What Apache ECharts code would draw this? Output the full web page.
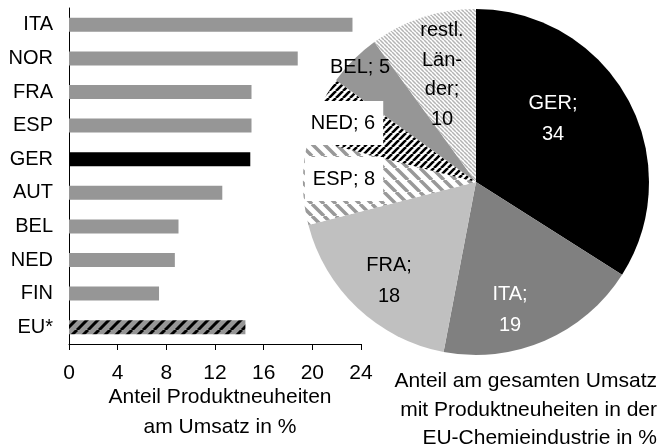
<!DOCTYPE html>
<html>
<head>
<meta charset="utf-8">
<script src="https://cdn.jsdelivr.net/npm/echarts@6/dist/echarts.min.js"></script>
<style>
  html, body { margin: 0; padding: 0; background: #fff; }
  #chart { width: 661px; height: 446px; }
</style>
</head>
<body>
<div id="chart"></div>
<script>
// Share of new products in turnover, by country (%)
const countries = ['ITA', 'NOR', 'FRA', 'ESP', 'GER', 'AUT', 'BEL', 'NED', 'FIN', 'EU*'];
const shareValues = [23.3, 18.8, 15.0, 15.0, 14.9, 12.6, 9.0, 8.7, 7.4, 14.5];
const xTicks = [0, 4, 8, 12, 16, 20, 24];

// Share of total EU chemical industry turnover with new products (%)
const pieNames = ['GER', 'ITA', 'FRA', 'ESP', 'NED', 'BEL', 'restl. Länder'];
const pieValues = [34, 19, 18, 8, 6, 5, 10];

const FONT = "'Liberation Sans', Arial, sans-serif";

// diagonal stripe tiles used as fills
function stripes(size, bg, fg, width, dir) {
  const c = document.createElement('canvas');
  c.width = size; c.height = size;
  const g = c.getContext('2d');
  g.fillStyle = bg; g.fillRect(0, 0, size, size);
  g.strokeStyle = fg; g.lineWidth = width;
  g.beginPath();
  for (let k = -1; k <= 1; k++) {
    if (dir === '/') { g.moveTo(k * size, size); g.lineTo(k * size + size, 0); }
    else { g.moveTo(k * size, 0); g.lineTo(k * size + size, size); }
  }
  g.stroke();
  return { image: c, repeat: 'repeat' };
}

const barGray = '#969696';
const euFill = stripes(11, barGray, '#000', 3, '/');
const barFills = countries.map(c => c === 'GER' ? '#000' : (c === 'EU*' ? euFill : barGray));

const pieFills = [
  '#000000',
  '#808080',
  '#c0c0c0',
  stripes(12, '#fff', '#999', 3.5, '\\'),
  stripes(7, '#fff', '#000', 2.6, '/'),
  '#969696',
  stripes(4, '#fff', '#b4b4b4', 1.5, '\\')
];
// label text layout per slice
const pieLabelNames = ['GER', 'ITA', 'FRA', 'ESP', 'NED', 'BEL', 'restl.\nLän-\nder'];
const valueOnNewLine = [true, true, true, false, false, false, true];
const pieLabelColors = ['#fff', '#fff', '#000', '#000', '#000', '#000', '#000'];
const pieLabelBoxed = [false, false, false, true, true, false, false];
const pieLabelPos = [[553, 119], [510, 310], [389, 281], [344, 179], [343, 123], [360, 67], [442, 75]];
const pieLabelLineHeight = [31, 31, 31, 20, 20, 20, 29.5];

const chart = echarts.init(document.getElementById('chart'));

chart.setOption({
  animation: false,
  backgroundColor: '#fff',
  textStyle: { fontFamily: FONT },
  grid: { left: 69, top: 8, width: 292, height: 336 },
  xAxis: {
    type: 'value',
    min: 0, max: 24, interval: 4,
    axisLine: { show: true, lineStyle: { color: '#000', width: 1 } },
    axisTick: { show: true, length: 6, lineStyle: { color: '#000' } },
    splitLine: { show: false },
    axisLabel: {
      color: '#000', fontSize: 21, fontFamily: FONT, margin: 19,
      formatter: v => xTicks.includes(v) ? String(v) : ''
    }
  },
  yAxis: {
    type: 'category',
    data: countries,
    inverse: true,
    axisLine: { show: true, lineStyle: { color: '#000', width: 1 } },
    axisTick: { show: false },
    axisLabel: { color: '#000', fontSize: 20, fontFamily: FONT, margin: 16 }
  },
  series: [
    {
      type: 'bar',
      barWidth: 14,
      data: shareValues.map((v, i) => ({ value: v, itemStyle: { color: barFills[i] } })),
      silent: true
    },
    {
      type: 'pie',
      center: [476, 182],
      radius: 173,
      startAngle: 90,
      clockwise: true,
      silent: true,
      avoidLabelOverlap: false,
      itemStyle: { borderWidth: 0 },
      labelLine: { show: false },
      label: {
        show: true,
        position: 'inside',
        fontSize: 20,
        fontFamily: FONT,
        formatter: p => pieLabelNames[p.dataIndex] + ';' + (valueOnNewLine[p.dataIndex] ? '\n' : ' ') + p.value
      },
      labelLayout: p => ({
        x: pieLabelPos[p.dataIndex][0],
        y: pieLabelPos[p.dataIndex][1],
        align: 'center',
        verticalAlign: 'middle'
      }),
      data: pieValues.map((v, i) => ({
        name: pieNames[i],
        value: v,
        itemStyle: { color: pieFills[i] },
        label: Object.assign(
          { color: pieLabelColors[i], lineHeight: pieLabelLineHeight[i] },
          pieLabelBoxed[i] ? { backgroundColor: '#fff', padding: [12, 8] } : {}
        )
      }))
    }
  ],
  graphic: [
    {
      type: 'text', x: 220, y: 412, silent: true,
      style: {
        text: 'Anteil Produktneuheiten\nam Umsatz in %',
        font: '21px ' + FONT, fill: '#000',
        align: 'center', verticalAlign: 'middle', lineHeight: 30
      }
    },
    {
      type: 'text', x: 657, y: 410, silent: true,
      style: {
        text: 'Anteil am gesamten Umsatz\nmit Produktneuheiten in der\nEU-Chemieindustrie in %',
        font: '21px ' + FONT, fill: '#000',
        align: 'right', verticalAlign: 'middle', lineHeight: 28.5
      }
    }
  ]
});
</script>
</body>
</html>
